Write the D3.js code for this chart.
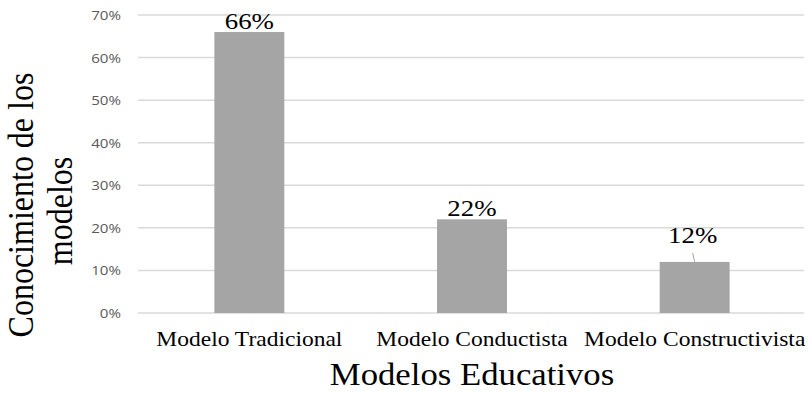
<!DOCTYPE html>
<html>
<head>
<meta charset="utf-8">
<script src="https://cdn.jsdelivr.net/npm/d3@7"></script>
<style>
  body { margin: 0; background: #fff; }
</style>
</head>
<body>
<div id="chart"></div>
<script>
const WIDTH = 811;
const HEIGHT = 393;

const categories = ["Modelo Tradicional", "Modelo Conductista", "Modelo Constructivista"];
const values = [0.66, 0.22, 0.12];
const valueLabels = ["66%", "22%", "12%"];
const yTicks = [0, 0.1, 0.2, 0.3, 0.4, 0.5, 0.6, 0.7];

// the picture is a little wider than its fonts, so text gets stretched too
const SX = 1.12;
const SERIF = "'Liberation Serif', 'Times New Roman', serif";

const svg = d3.select('#chart')
    .append('svg')
    .attr('width', WIDTH)
    .attr('height', HEIGHT);

const x = d3.scaleBand()
    .domain(categories)
    .range([138, 806])
    .paddingInner(0.686)
    .paddingOuter(0.343);

const y = d3.scaleLinear()
    .domain([0, 0.7])
    .range([313, 15]);

function stretchedText(g, px, py, txt) {
    return g.append('text')
        .attr('transform', `translate(${px},${py}) scale(${SX},1)`)
        .text(txt);
}

// gridlines
svg.append('g')
    .selectAll('line')
    .data(yTicks)
    .enter()
    .append('line')
    .attr('x1', 138)
    .attr('x2', 804)
    .attr('y1', d => y(d))
    .attr('y2', d => y(d))
    .attr('stroke', '#d9d9d9')
    .attr('stroke-width', 1.5);

// y tick labels
const tickG = svg.append('g')
    .attr('font-family', "'Open Sans', 'Noto Sans', sans-serif")
    .attr('font-size', 13.5)
    .attr('fill', '#595959')
    .attr('text-anchor', 'end');
yTicks.forEach(t => {
    stretchedText(tickG, 121, y(t) + 5, d3.format('.0%')(t));
});

// bars
svg.append('g')
    .selectAll('rect')
    .data(values)
    .enter()
    .append('rect')
    .attr('x', (d, i) => x(categories[i]))
    .attr('y', d => y(d))
    .attr('width', x.bandwidth())
    .attr('height', d => y(0) - y(d))
    .attr('fill', '#a5a5a5');

// data labels (the last one sits higher with a leader line)
const lblG = svg.append('g')
    .attr('font-family', SERIF)
    .attr('font-size', 24)
    .attr('fill', '#000')
    .attr('text-anchor', 'middle');
values.forEach((v, i) => {
    const cx = x(categories[i]) + x.bandwidth() / 2;
    const lift = i === 2 ? 19 : 3;
    stretchedText(lblG, cx - (i === 2 ? 2 : 0), y(v) - lift, valueLabels[i]);
    if (i === 2) {
        svg.append('line')
            .attr('x1', cx - 2)
            .attr('y1', y(v) - 9)
            .attr('x2', cx)
            .attr('y2', y(v))
            .attr('stroke', '#a5a5a5')
            .attr('stroke-width', 1);
    }
});

// category labels
const catG = svg.append('g')
    .attr('font-family', SERIF)
    .attr('font-size', 21)
    .attr('fill', '#000')
    .attr('text-anchor', 'middle');
categories.forEach(c => {
    stretchedText(catG, x(c) + x.bandwidth() / 2, 346, c);
});

// axis titles
const titleG = svg.append('g')
    .attr('font-family', SERIF)
    .attr('fill', '#000')
    .attr('text-anchor', 'middle');
stretchedText(titleG, 472, 385, 'Modelos Educativos').attr('font-size', 31);

titleG.append('text')
    .attr('transform', `translate(33,205) scale(${SX},1) rotate(-90)`)
    .attr('font-size', 32)
    .text('Conocimiento de los');
titleG.append('text')
    .attr('transform', `translate(72,211) scale(${SX},1) rotate(-90)`)
    .attr('font-size', 32)
    .text('modelos');
</script>
</body>
</html>
